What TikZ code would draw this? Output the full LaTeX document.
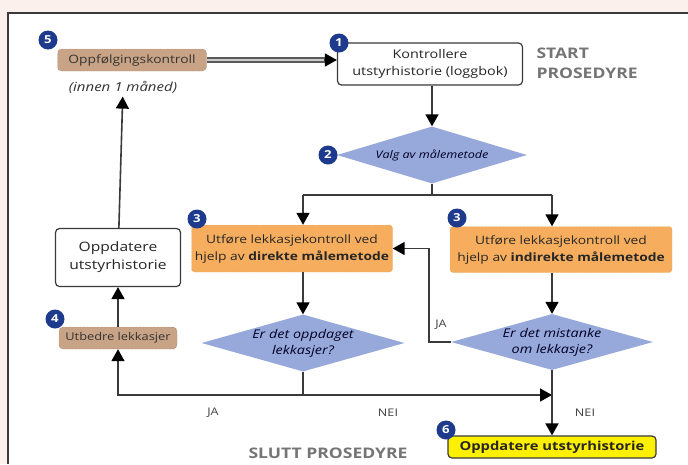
\documentclass[tikz,border=0pt]{standalone}
\usepackage{fontspec}
\setmainfont{Open Sans}[FakeStretch=1.2]
\usetikzlibrary{shapes.geometric,arrows.meta,calc}
\definecolor{bgpink}{HTML}{FBF0EB}
\definecolor{tanfill}{HTML}{C9A385}
\definecolor{orangefill}{HTML}{F6AE5E}
\definecolor{bluefill}{HTML}{97A9DA}
\definecolor{badgeblue}{HTML}{1D3A8C}
\definecolor{yellowfill}{HTML}{FFF000}
\definecolor{linegray}{HTML}{3A3A3A}
\definecolor{titlegray}{HTML}{757575}
\tikzset{
  wire/.style={draw=linegray, line width=1.6pt},
  arr/.style={wire, -{Triangle[length=12pt,width=13pt,black]}},
  box/.style={draw=linegray, line width=1.2pt, rounded corners=4pt, fill=white, align=center, text=black!85},
  tannode/.style={fill=tanfill, draw=tanfill!60!black, densely dotted, rounded corners=4pt, inner sep=1pt, text=black!80, font=\fontsize{11.5}{14}\selectfont},
  orangenode/.style={fill=orangefill, draw=orangefill!85!black, densely dotted, rounded corners=3pt, inner xsep=1pt, align=center, text=black!85, font=\fontsize{11.5}{17}\selectfont},
  choice/.style={shape=diamond, fill=bluefill, aspect=3.5, inner xsep=0pt, inner ysep=-3pt, align=center, text=black!85!blue, font=\itshape\fontsize{12}{16}\selectfont},
  badge/.style={circle, fill=badgeblue, text=white, inner sep=0pt, minimum size=19pt, font=\bfseries\fontsize{11}{11}\selectfont},
  title/.style={text=titlegray, align=left, font=\bfseries\fontsize{14.6}{20}\selectfont},
  tag/.style={text=black!75, font=\fontsize{10.5}{12}\selectfont}
}
\begin{document}
\begin{tikzpicture}[x=1pt,y=-1pt]
\useasboundingbox (0,0) rectangle (688,464);
\fill[bgpink] (0,0) rectangle (688,464);
\fill[white] (8,13) rectangle (688,464);
\draw[linegray, line width=1.2pt] (8,464) -- (8,13) -- (688,13);

\node[tannode, minimum width=149pt, minimum height=22pt] (followup) at (132,60) {Oppfølgingskontroll};
\node[text=black!80, font=\itshape\fontsize{12.5}{15}\selectfont] (within) at (123,87) {(innen 1 måned)};
\node[box, minimum width=185pt, minimum height=42pt, font=\fontsize{12}{17}\selectfont] (check) at (430,64) {Kontrollere\\utstyrhistorie (loggbok)};
\node[title, anchor=west] (start) at (533,63) {START\\PROSEDYRE};
\node[choice, minimum width=190pt, minimum height=57pt, font=\itshape\fontsize{10.5}{13}\selectfont] (method) at (432,155) {Valg av målemetode};
\node[orangenode, minimum width=201pt, minimum height=47pt] (direct) at (292,248.5) {Utføre lekkasjekontroll ved\\hjelp av \textbf{direkte målemetode}};
\node[orangenode, minimum width=222pt, minimum height=46pt] (indirect) at (561,249.5) {Utføre lekkasjekontroll ved\\hjelp av \textbf{indirekte målemetode}};
\node[box, minimum width=125pt, minimum height=58pt, font=\fontsize{13}{18}\selectfont] (update) at (118,257.5) {Oppdatere\\utstyrhistorie};
\node[tannode, minimum width=118pt, minimum height=22pt, font=\fontsize{10.7}{13}\selectfont] (repair) at (118,338) {Utbedre lekkasjer};
\node[choice, minimum width=203pt, minimum height=57pt] (found) at (303,343) {Er det oppdaget\\lekkasjer?};
\node[choice, minimum width=202pt, minimum height=56pt] (suspect) at (552,342) {Er det mistanke\\om lekkasje?};
\node[box, fill=yellowfill, minimum width=208pt, minimum height=22pt, inner sep=1pt, font=\bfseries\fontsize{12.3}{14}\selectfont] (final) at (552,447) {Oppdatere utstyrhistorie};
\node[title] (finish) at (328,453) {SLUTT PROSEDYRE};

\coordinate (splitL) at (303,195);
\coordinate (splitR) at (552,195);
\coordinate (busL) at (118,395);
\coordinate (busR) at (552,395);

\draw[draw=gray!70!black, line width=1.4pt, double=gray!40, double distance=2.4pt, shorten >=10pt] (followup.east) -- (followup.east -| check.west);
\draw[arr] ($(followup.east -| check.west)+(-13,0)$) -- (followup.east -| check.west);
\draw[arr] (check.south -| method) -- (method.north);
\draw[wire] (method.south) -- (method.south |- splitL);
\draw[wire] (splitL) -- (splitR);
\draw[arr] (splitL) -- (splitL |- direct.north);
\draw[arr] (splitR) -- (splitR |- indirect.north);
\draw[arr] (splitL |- direct.south) -- (found.north);
\draw[arr] (splitR |- indirect.south) -- (suspect.north);
\draw[arr] (found.south) -- (found.south |- busL) -- (busL) -- (repair.south);
\draw[arr] (found.south |- busL) -- (busR);
\draw[arr] (suspect.south) -- (final.north);
\draw[arr] (suspect.west) -- ++(-22,0) |- (direct.east);
\draw[arr] (repair) -- (update);
\draw[arr] (update) -- (within);

\foreach \txt/\x/\y [count=\i] in {JA/213/413, NEI/388/413, NEI/585/413, JA/441/325}
  \node[tag] (answer\i) at (\x,\y) {\txt};
\foreach \num/\x/\y [count=\i] in {5/48/40, 1/339/43, 2/328/155, 3/197/219, 3/457/218, 4/55/319, 6/446/430}
  \node[badge] (badge\i) at (\x,\y) {\num};
\end{tikzpicture}
\end{document}
